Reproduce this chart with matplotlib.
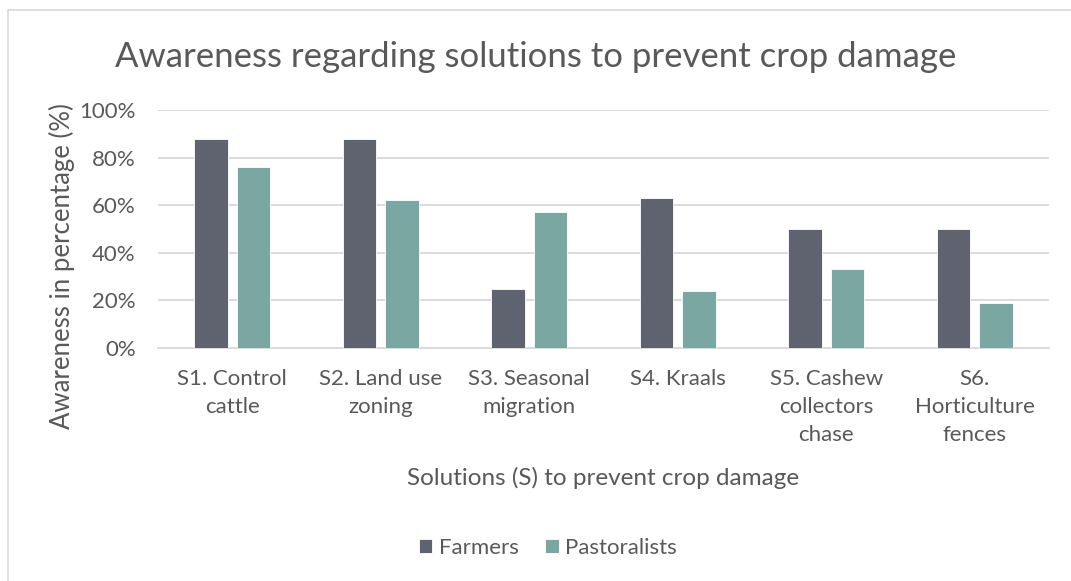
import matplotlib.pyplot as plt
from matplotlib.patches import Rectangle
from matplotlib.ticker import PercentFormatter
import numpy as np

categories = ["S1. Control\ncattle", "S2. Land use\nzoning", "S3. Seasonal\nmigration",
              "S4. Kraals", "S5. Cashew\ncollectors\nchase", "S6.\nHorticulture\nfences"]
farmers = [88, 88, 25, 63, 50, 50]
pastoralists = [76, 62, 57, 24, 33, 19]

TEXT = '#595959'
GRID = '#D9D9D9'
C_FARM = '#5F6370'
C_PAST = '#7BA7A2'

plt.rcParams['font.family'] = ['Lato', 'DejaVu Sans']

fig = plt.figure(figsize=(10.71, 5.81), dpi=100)
fig.patches.append(Rectangle((8 / 1071, -0.1), 1.2, 1 - 10 / 581 + 0.1,
                             transform=fig.transFigure, fill=False,
                             edgecolor=GRID, linewidth=1.2))

ax = fig.add_axes([158 / 1071, 1 - 348 / 581, (1049 - 158) / 1071, (348 - 110) / 581])
x = np.arange(len(categories))
w = 0.225
ax.bar(x - 0.142, farmers, w, color=C_FARM, edgecolor='white', linewidth=0.6,
       label='Farmers', zorder=3)
ax.bar(x + 0.142, pastoralists, w, color=C_PAST, edgecolor='white', linewidth=0.6,
       label='Pastoralists', zorder=3)

ax.set_xlim(-0.5, len(categories) - 0.5)
ax.set_ylim(0, 100)
ax.set_yticks(np.arange(0, 101, 20))
ax.yaxis.set_major_formatter(PercentFormatter(decimals=0))
ax.set_xticks(x)
ax.set_xticklabels(categories, linespacing=1.5)
ax.grid(axis='y', color=GRID, linewidth=1.3, zorder=0)
for s in ['top', 'right', 'left']:
    ax.spines[s].set_visible(False)
ax.spines['bottom'].set_color(GRID)
ax.spines['bottom'].set_linewidth(1.3)
ax.tick_params(axis='both', length=0, labelsize=16, colors=TEXT)
ax.tick_params(axis='x', pad=15)
ax.tick_params(axis='y', pad=16)

fig.text(0.5, 1 - 57 / 581, 'Awareness regarding solutions to prevent crop damage',
         ha='center', va='center', fontsize=25, color=TEXT)
fig.text(603 / 1071, 1 - 478 / 581, 'Solutions (S) to prevent crop damage',
         ha='center', va='center', fontsize=17.5, color=TEXT)
fig.text(62 / 1071, 1 - 266 / 581, 'Awareness in percentage (%)', rotation=90,
         ha='center', va='center', fontsize=18.5, color=TEXT)

fig.legend(loc='center', bbox_to_anchor=(548 / 1071, 1 - 548 / 581), ncol=2,
           frameon=False, fontsize=16, labelcolor=TEXT, handlelength=0.6,
           handleheight=0.6, handletextpad=0.3, columnspacing=1.2)

fig.savefig('out.png', dpi=100)
